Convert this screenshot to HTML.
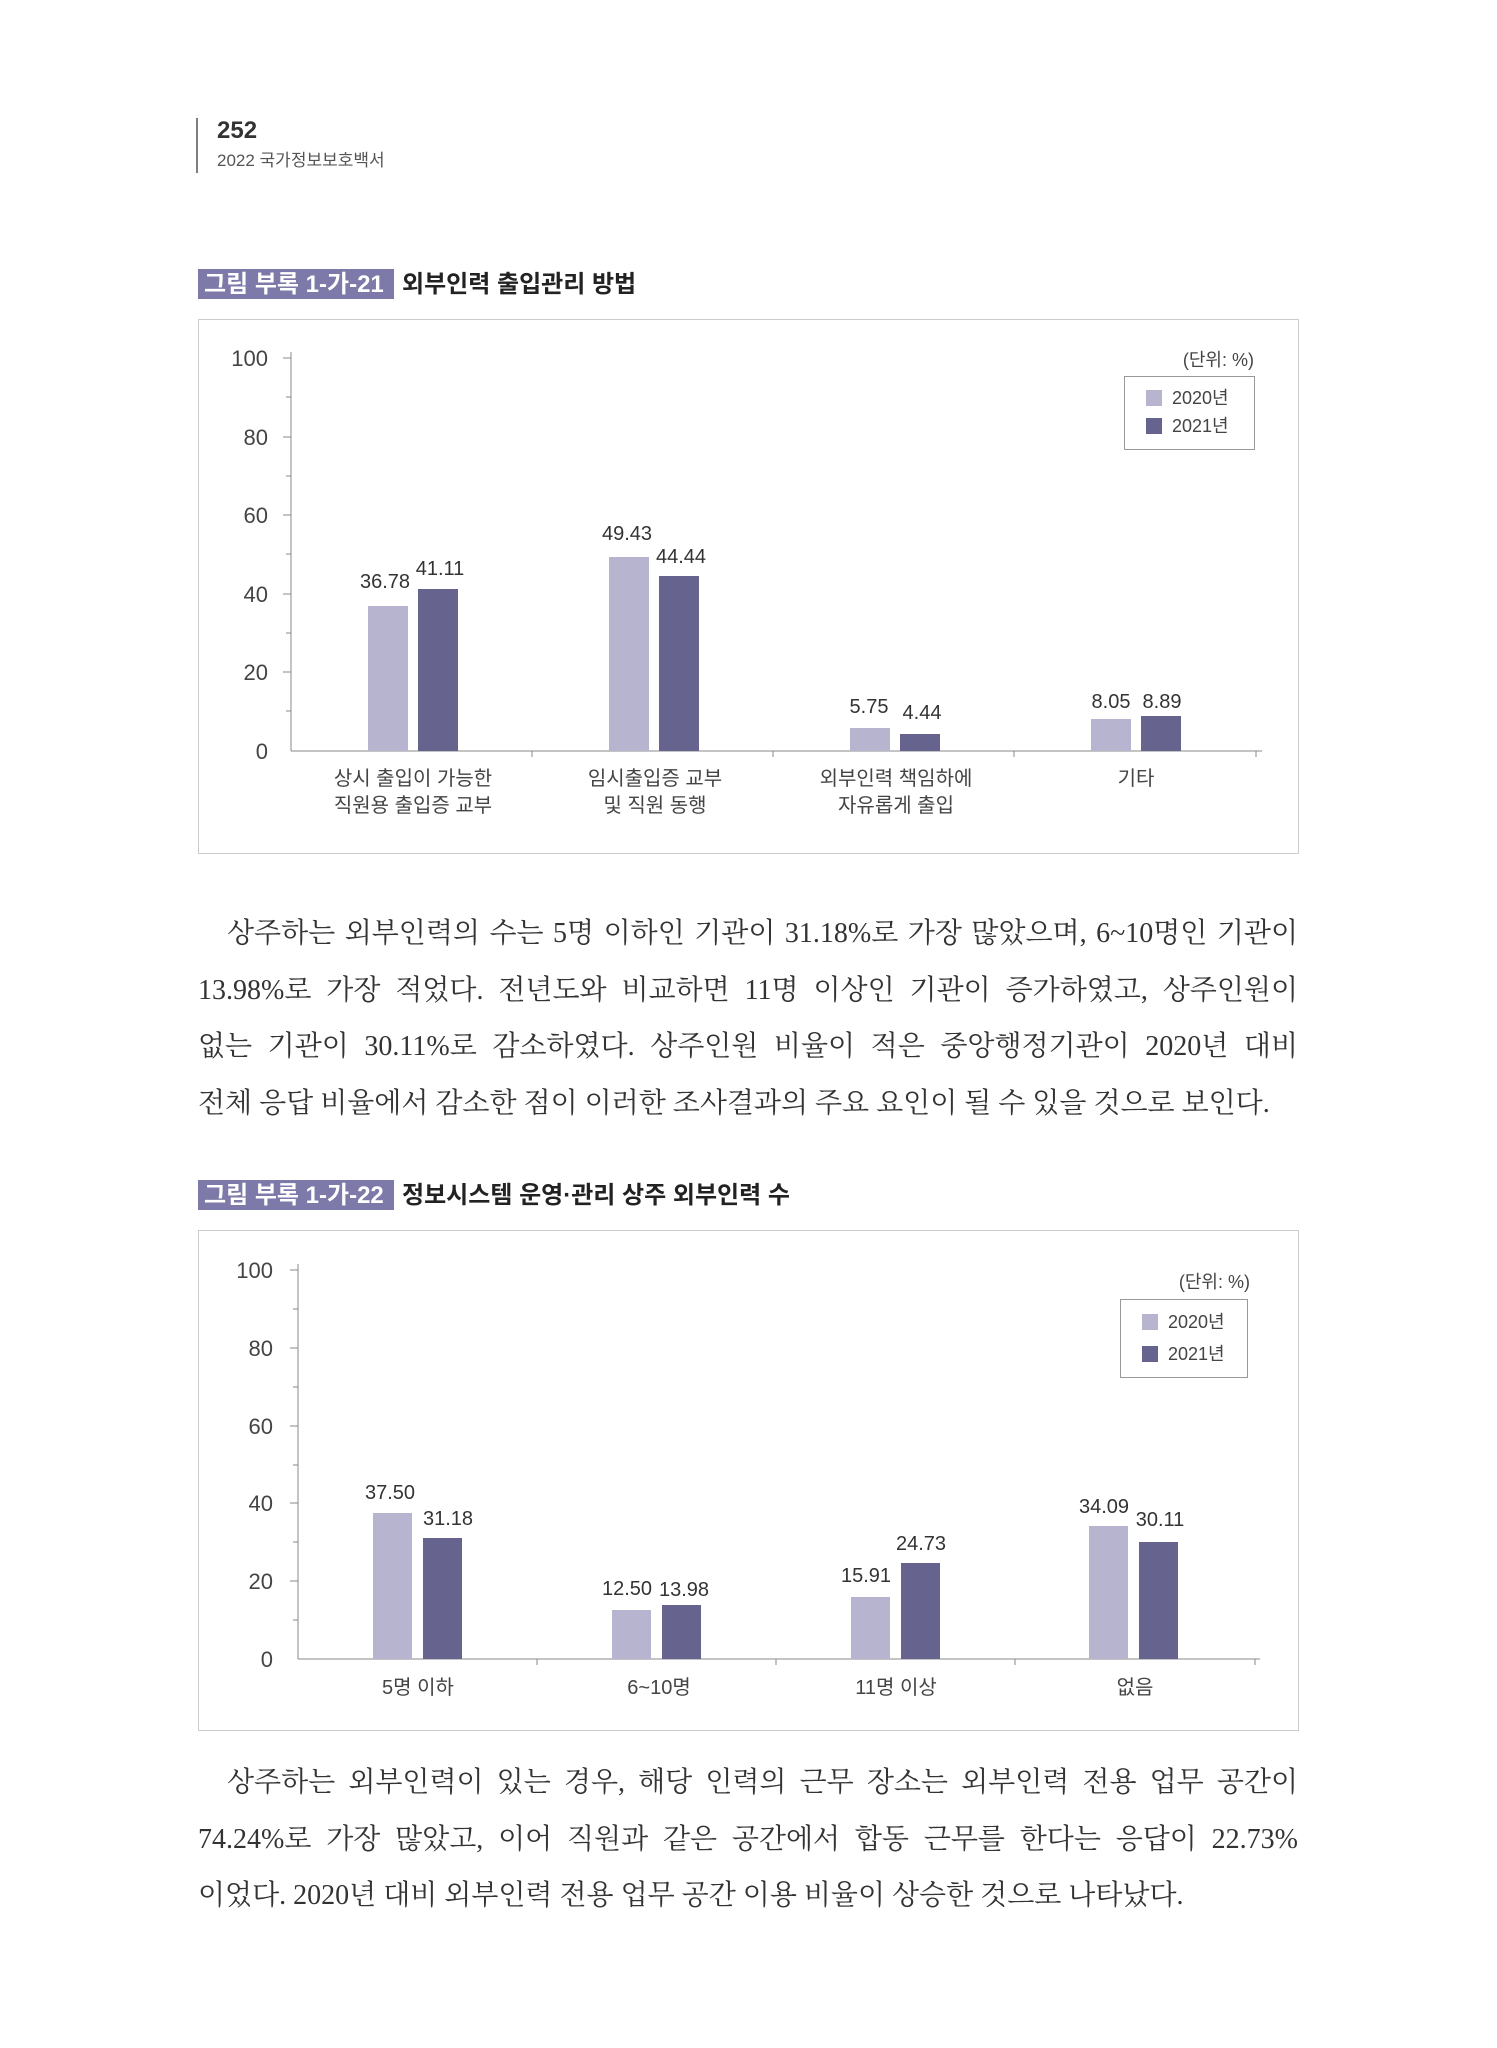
<!DOCTYPE html>
<html><head><meta charset="utf-8">
<style>
body{margin:0;background:#fff;}
#pg{position:relative;width:1497px;height:2048px;overflow:hidden;background:#fff;}
.ln{position:absolute;left:198px;width:1100px;font-family:"Liberation Serif","Noto Serif CJK KR","Noto Serif CJK SC",serif;font-size:28px;color:#333;white-space:nowrap;line-height:36px;}
.j{text-align:justify;text-align-last:justify;white-space:normal;}
svg text{font-family:"Liberation Sans","Noto Sans CJK KR",sans-serif;}
</style></head><body><div id="pg">
<svg width="1497" height="2048" style="position:absolute;left:0;top:0">
<line x1="197" y1="118" x2="197" y2="173" stroke="#555" stroke-width="1.5"/>
<text x="217" y="138" font-size="24" font-weight="bold" fill="#333">252</text>
<text x="217" y="166" font-size="17" fill="#555">2022 국가정보보호백서</text>

<g transform="translate(0,-3)">
<rect x="198" y="272" width="196" height="30" fill="#7d79a8"/>
<text x="204" y="295" font-size="24" font-weight="bold" fill="#fff">그림 부록 1-가-21</text>
<text x="402" y="295" font-size="24" font-weight="bold" fill="#222">외부인력 출입관리 방법</text>
<rect x="198.5" y="322.5" width="1100" height="534" fill="none" stroke="#ccc"/>
<g stroke="#888" stroke-width="1">
<line x1="291" y1="355" x2="291" y2="754"/>
<line x1="283" y1="361" x2="291" y2="361"/><line x1="283" y1="440" x2="291" y2="440"/><line x1="283" y1="518" x2="291" y2="518"/><line x1="283" y1="597" x2="291" y2="597"/><line x1="283" y1="675" x2="291" y2="675"/>
<line x1="286" y1="400" x2="291" y2="400"/><line x1="286" y1="479" x2="291" y2="479"/><line x1="286" y1="557" x2="291" y2="557"/><line x1="286" y1="636" x2="291" y2="636"/><line x1="286" y1="714" x2="291" y2="714"/>
<line x1="291" y1="754" x2="1262" y2="754"/>
<line x1="532" y1="754" x2="532" y2="760"/><line x1="773" y1="754" x2="773" y2="760"/><line x1="1014" y1="754" x2="1014" y2="760"/><line x1="1256" y1="754" x2="1256" y2="760"/>
</g>
<g font-size="22" fill="#444" text-anchor="end">
<text x="268" y="369">100</text><text x="268" y="448">80</text><text x="268" y="526">60</text><text x="268" y="605">40</text><text x="268" y="683">20</text><text x="268" y="762">0</text>
</g>
<g fill="#b7b4d0">
<rect x="368" y="609" width="40" height="145"/><rect x="609" y="560" width="40" height="194"/><rect x="850" y="731" width="40" height="23"/><rect x="1091" y="722" width="40" height="32"/>
</g>
<g fill="#66638f">
<rect x="418" y="592" width="40" height="162"/><rect x="659" y="579" width="40" height="175"/><rect x="900" y="737" width="40" height="17"/><rect x="1141" y="719" width="40" height="35"/>
</g>
<g font-size="20" fill="#333" text-anchor="middle">
<text x="385" y="591">36.78</text><text x="440" y="578">41.11</text>
<text x="627" y="543">49.43</text><text x="681" y="566">44.44</text>
<text x="869" y="716">5.75</text><text x="922" y="722">4.44</text>
<text x="1111" y="711">8.05</text><text x="1162" y="711">8.89</text>
</g>
<g font-size="20" fill="#444" text-anchor="middle">
<text x="413" y="788">상시 출입이 가능한</text><text x="413" y="815">직원용 출입증 교부</text>
<text x="655" y="788">임시출입증 교부</text><text x="655" y="815">및 직원 동행</text>
<text x="896" y="788">외부인력 책임하에</text><text x="896" y="815">자유롭게 출입</text>
<text x="1136" y="788">기타</text>
</g>
<text x="1254" y="369" font-size="18" fill="#444" text-anchor="end">(단위: %)</text>
<rect x="1124.5" y="379.5" width="130" height="73" fill="#fff" stroke="#999"/>
<rect x="1146" y="393" width="16" height="16" fill="#b7b4d0"/><text x="1172" y="407" font-size="18" fill="#444">2020년</text>
<rect x="1146" y="421" width="16" height="16" fill="#66638f"/><text x="1172" y="435" font-size="18" fill="#444">2021년</text>
</g>

<g transform="translate(0,-6)">
<rect x="198" y="1186" width="196" height="30" fill="#7d79a8"/>
<text x="204" y="1209" font-size="24" font-weight="bold" fill="#fff">그림 부록 1-가-22</text>
<text x="402" y="1209" font-size="24" font-weight="bold" fill="#222">정보시스템 운영·관리 상주 외부인력 수</text>
<rect x="198.5" y="1236.5" width="1100" height="500" fill="none" stroke="#ccc"/>
<g stroke="#888" stroke-width="1">
<line x1="298" y1="1270" x2="298" y2="1665"/>
<line x1="290" y1="1276" x2="298" y2="1276"/><line x1="290" y1="1354" x2="298" y2="1354"/><line x1="290" y1="1432" x2="298" y2="1432"/><line x1="290" y1="1509" x2="298" y2="1509"/><line x1="290" y1="1587" x2="298" y2="1587"/>
<line x1="293" y1="1315" x2="298" y2="1315"/><line x1="293" y1="1393" x2="298" y2="1393"/><line x1="293" y1="1471" x2="298" y2="1471"/><line x1="293" y1="1548" x2="298" y2="1548"/><line x1="293" y1="1626" x2="298" y2="1626"/>
<line x1="298" y1="1665" x2="1260" y2="1665"/>
<line x1="537" y1="1665" x2="537" y2="1671"/><line x1="776" y1="1665" x2="776" y2="1671"/><line x1="1015" y1="1665" x2="1015" y2="1671"/><line x1="1255" y1="1665" x2="1255" y2="1671"/>
</g>
<g font-size="22" fill="#444" text-anchor="end">
<text x="273" y="1284">100</text><text x="273" y="1362">80</text><text x="273" y="1440">60</text><text x="273" y="1517">40</text><text x="273" y="1595">20</text><text x="273" y="1673">0</text>
</g>
<g fill="#b7b4d0">
<rect x="373" y="1519" width="39" height="146"/><rect x="612" y="1616" width="39" height="49"/><rect x="851" y="1603" width="39" height="62"/><rect x="1089" y="1532" width="39" height="133"/>
</g>
<g fill="#66638f">
<rect x="423" y="1544" width="39" height="121"/><rect x="662" y="1611" width="39" height="54"/><rect x="901" y="1569" width="39" height="96"/><rect x="1139" y="1548" width="39" height="117"/>
</g>
<g font-size="20" fill="#333" text-anchor="middle">
<text x="390" y="1505">37.50</text><text x="448" y="1531">31.18</text>
<text x="627" y="1601">12.50</text><text x="684" y="1602">13.98</text>
<text x="866" y="1588">15.91</text><text x="921" y="1556">24.73</text>
<text x="1104" y="1519">34.09</text><text x="1160" y="1532">30.11</text>
</g>
<g font-size="20" fill="#444" text-anchor="middle">
<text x="418" y="1700">5명 이하</text><text x="659" y="1700">6~10명</text><text x="896" y="1700">11명 이상</text><text x="1135" y="1700">없음</text>
</g>
<text x="1250" y="1294" font-size="18" fill="#444" text-anchor="end">(단위: %)</text>
<rect x="1120.5" y="1305.5" width="127" height="78" fill="#fff" stroke="#999"/>
<rect x="1142" y="1320" width="16" height="16" fill="#b7b4d0"/><text x="1168" y="1334" font-size="18" fill="#444">2020년</text>
<rect x="1142" y="1352" width="16" height="16" fill="#66638f"/><text x="1168" y="1366" font-size="18" fill="#444">2021년</text>
</g>
</svg>

<div class="ln j" style="top:916px;padding-left:29px;width:1071px">상주하는 외부인력의 수는 5명 이하인 기관이 31.18%로 가장 많았으며, 6~10명인 기관이</div>
<div class="ln j" style="top:973px">13.98%로 가장 적었다. 전년도와 비교하면 11명 이상인 기관이 증가하였고, 상주인원이</div>
<div class="ln j" style="top:1029px">없는 기관이 30.11%로 감소하였다. 상주인원 비율이 적은 중앙행정기관이 2020년 대비</div>
<div class="ln" style="top:1086px">전체 응답 비율에서 감소한 점이 이러한 조사결과의 주요 요인이 될 수 있을 것으로 보인다.</div>

<div class="ln j" style="top:1765px;padding-left:29px;width:1071px">상주하는 외부인력이 있는 경우, 해당 인력의 근무 장소는 외부인력 전용 업무 공간이</div>
<div class="ln j" style="top:1822px">74.24%로 가장 많았고, 이어 직원과 같은 공간에서 합동 근무를 한다는 응답이 22.73%</div>
<div class="ln" style="top:1878px">이었다. 2020년 대비 외부인력 전용 업무 공간 이용 비율이 상승한 것으로 나타났다.</div>
</div></body></html>
